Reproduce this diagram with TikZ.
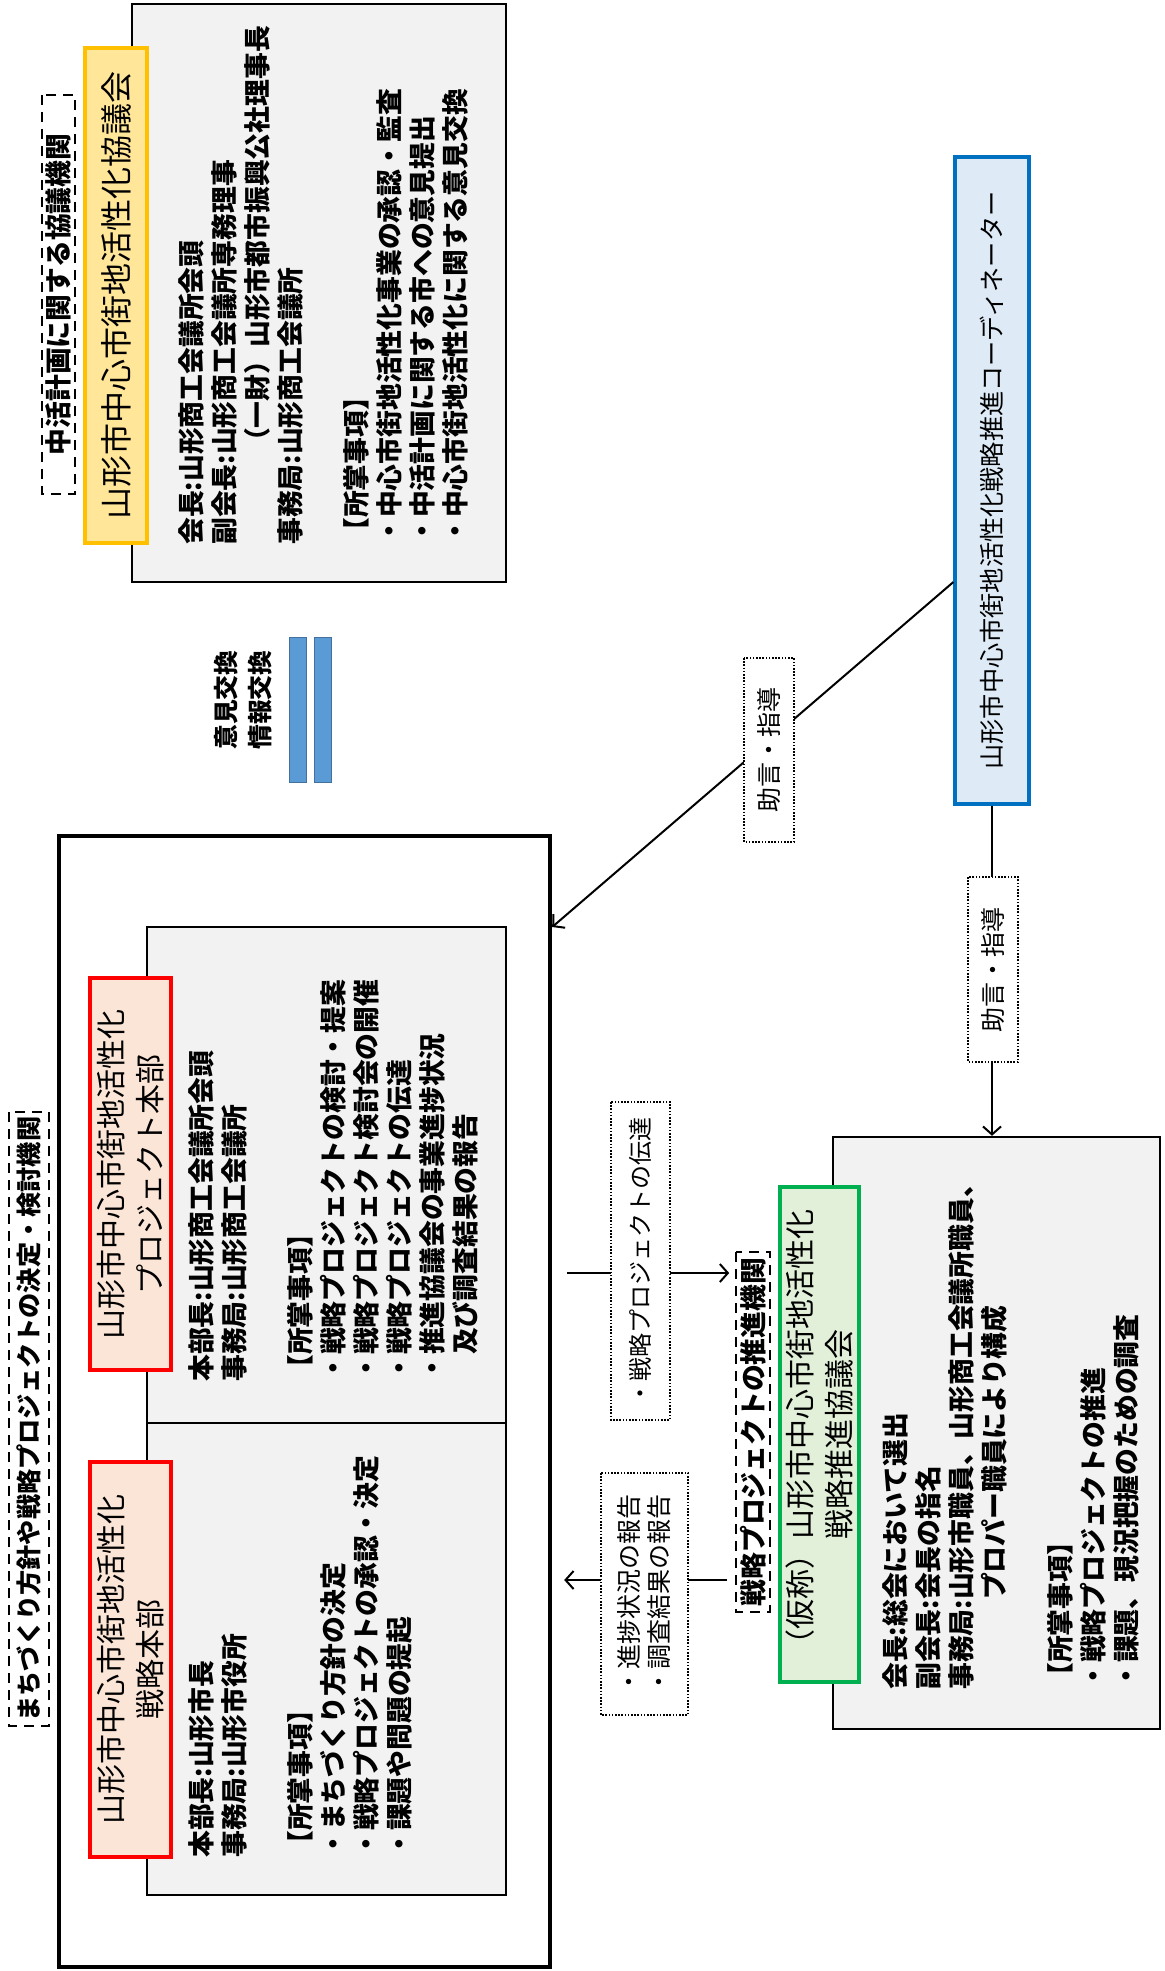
\documentclass[tikz,border=0pt]{standalone}
\usepackage{fontspec}
\setmainfont{Noto Sans CJK JP}
\usetikzlibrary{arrows.meta}
\definecolor{boxgray}{HTML}{F2F2F2}
\definecolor{kyogiline}{HTML}{FFC000}
\definecolor{kyogifill}{HTML}{FFE699}
\definecolor{honbuline}{HTML}{FF0000}
\definecolor{honbufill}{HTML}{FBE5D6}
\definecolor{suishinline}{HTML}{00B050}
\definecolor{suishinfill}{HTML}{E2F0D9}
\definecolor{coordline}{HTML}{0070C0}
\definecolor{coordfill}{HTML}{DEEBF7}
\definecolor{barline}{HTML}{41719C}
\definecolor{barfill}{HTML}{5B9BD5}

\begin{document}
\begin{tikzpicture}[x=0.5pt,y=-0.5pt,
  graybox/.style={draw,fill=boxgray,line width=1.2pt,inner sep=0pt},
  headbox/.style={draw,rotate=90,line width=1.6pt,inner sep=0pt,align=center,
    font=\fontsize{15pt}{19.5pt}\selectfont},
  bodytext/.style={rotate=90,anchor=north west,inner sep=0pt,align=left,
    font=\bfseries\fontsize{13.4pt}{16.5pt}\selectfont},
  dashlabel/.style={draw,fill=white,rotate=90,inner sep=0pt,line width=0.8pt,
    dash pattern=on 5pt off 3.5pt,font=\bfseries\fontsize{13.4pt}{15pt}\selectfont},
  dotlabel/.style={draw,fill=white,rotate=90,inner sep=0pt,line width=0.8pt,
    dash pattern=on 0.8pt off 0.8pt,align=center,font=\fontsize{12.5pt}{15pt}\selectfont},
  conn/.style={line width=1pt,-{Straight Barb[length=4pt,width=9pt]}}]
\useasboundingbox (0,0) rectangle (1165,1971);

% 協議会
\node[graybox,minimum width=187pt,minimum height=289pt] (kyogi) at (319,293) {};
\node[headbox,draw=kyogiline,fill=kyogifill,minimum width=247.5pt,minimum height=31pt,
  font=\fontsize{16pt}{19pt}\selectfont] (kyogihead) at (116,295.5) {山形市中心市街地活性化協議会};
\node[dashlabel,minimum width=199.5pt,minimum height=16.5pt] (kyogitag) at (58.5,294.5) {中活計画に関する協議機関};
\node[bodytext] (kyogitext) at (178,545) {会長:山形商工会議所会頭\\
副会長:山形商工会議所専務理事\\
\phantom{副会長:}（一財）山形市都市振興公社理事長\\
事務局:山形商工会議所\\[16.5pt]
【所掌事項】\\
・中心市街地活性化事業の承認・監査\\
・中活計画に関する市への意見提出\\
・中心市街地活性化に関する意見交換};

% 意見交換
\node[rotate=90,align=center,font=\bfseries\fontsize{12.4pt}{17pt}\selectfont] (iken) at (243,700) {意見交換\\情報交換};
\foreach \bx [count=\i] in {297.5,322.5}
  \node[draw=barline,fill=barfill,line width=0.5pt,minimum width=8.5pt,minimum height=72.5pt,
    inner sep=0pt] (bar\i) at (\bx,709.5) {};

% コーディネーター
\node[headbox,draw=coordline,fill=coordfill,minimum width=323.5pt,minimum height=37pt,
  font=\fontsize{12.6pt}{14pt}\selectfont] (coord) at (992,480.5) {山形市中心市街地活性化戦略推進コーディネーター};

% 本部
\node[draw,line width=2.2pt,minimum width=245.5pt,minimum height=565.5pt,inner sep=0pt] (honbu) at (304.5,1401.5) {};
\node[dashlabel,minimum width=307pt,minimum height=20pt,
  font=\bfseries\fontsize{12.6pt}{15pt}\selectfont] (honbutag) at (29,1419) {まちづくり方針や戦略プロジェクトの決定・検討機関};
\node[graybox,minimum width=179.5pt,minimum height=248pt] (projbody) at (326.5,1175) {};
\node[graybox,minimum width=179.5pt,minimum height=236pt] (senbody) at (326.5,1659) {};
\node[headbox,draw=honbuline,fill=honbufill,minimum width=196pt,minimum height=40.5pt] (projhead) at (130.5,1174) {山形市中心市街地活性化\\プロジェクト本部};
\node[headbox,draw=honbuline,fill=honbufill,minimum width=197.5pt,minimum height=40.5pt] (senhead) at (130.5,1659.5) {山形市中心市街地活性化\\戦略本部};
\node[bodytext] (projtext) at (188,1382) {本部長:山形商工会議所会頭\\
事務局:山形商工会議所\\[16.5pt]
【所掌事項】\\
・戦略プロジェクトの検討・提案\\
・戦略プロジェクト検討会の開催\\
・戦略プロジェクトの伝達\\
・推進協議会の事業進捗状況\\
\phantom{・}及び調査結果の報告};
\node[bodytext] (sentext) at (188,1858) {本部長:山形市長\\
事務局:山形市役所\\[16.5pt]
【所掌事項】\\
・まちづくり方針の決定\\
・戦略プロジェクトの承認・決定\\
・課題や問題の提起};

% 推進協議会
\node[graybox,minimum width=163.5pt,minimum height=296pt] (suishin) at (996.5,1433) {};
\node[headbox,draw=suishinline,fill=suishinfill,minimum width=247.5pt,minimum height=39.5pt] (suishinhead) at (819.5,1434.5) {（仮称）山形市中心市街地活性化\\戦略推進協議会};
\node[dashlabel,minimum width=180pt,minimum height=17pt] (suishintag) at (753,1432) {戦略プロジェクトの推進機関};
\node[bodytext] (suishintext) at (882,1690) {会長:総会において選出\\
副会長:会長の指名\\
事務局:山形市職員、山形商工会議所職員、\\
\phantom{事務局:}プロパー職員により構成\\[16.5pt]
【所掌事項】\\
・戦略プロジェクトの推進\\
・課題、現況把握のための調査};

% 矢印
\draw[conn] (coord.north |- 0,582) -- (honbu.east |- 0,927);
\node[dotlabel,minimum width=92pt,minimum height=25pt] (advice1) at (769,750) {助言・指導};
\draw[conn] (coord.west) -- (coord.west |- suishin.north);
\node[dotlabel,minimum width=92.5pt,minimum height=25pt] (advice2) at (993,969.5) {助言・指導};
\draw[conn] ([xshift=7.5pt]honbu.east |- 0,1273) -- ([xshift=-3pt]suishintag.north |- 0,1273);
\node[dotlabel,minimum width=159pt,minimum height=29.5pt,font=\fontsize{12pt}{14pt}\selectfont] (dentatsu) at (640.5,1261) {・戦略プロジェクトの伝達};
\draw[conn] ([xshift=-4pt]suishintag.north |- 0,1580) -- ([xshift=6pt]honbu.east |- 0,1580);
\node[dotlabel,minimum width=121pt,minimum height=43.5pt] (houkoku) at (644.5,1594) {・進捗状況の報告\\・調査結果の報告};
\end{tikzpicture}
\end{document}
